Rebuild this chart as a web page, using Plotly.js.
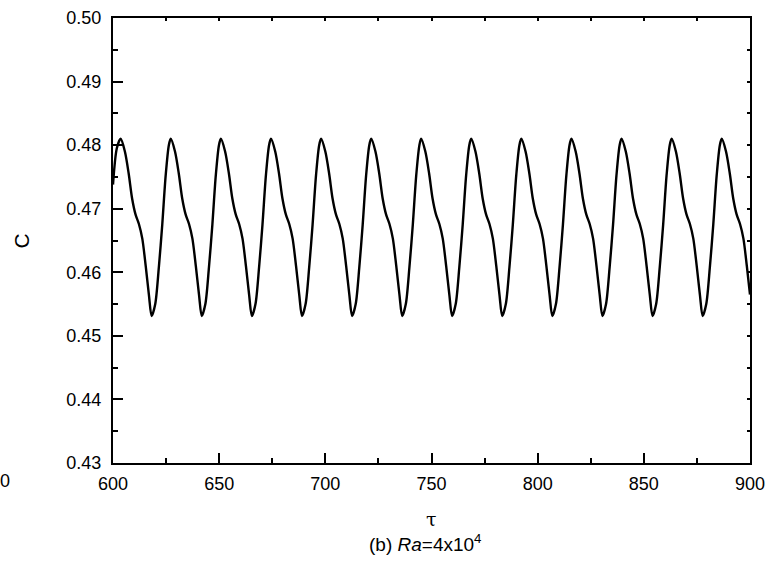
<!DOCTYPE html>
<html>
<head>
<meta charset="utf-8">
<script src="https://cdn.plot.ly/plotly-3.0.1.min.js"></script>
<style>html,body{margin:0;padding:0;background:#fff;}#chart{width:783px;height:568px;}</style>
</head>
<body>
<div id="chart"></div>
<script>
// time values (tau)
const tau = [
  600.0, 601.8,
  603.6, 605.6, 607.4, 609.0, 610.6, 612.2, 613.8, 615.4, 616.9, 618.2, 619.9, 621.6, 623.2, 624.8, 626.3,
  627.2, 629.2, 631.0, 632.6, 634.2, 635.8, 637.4, 639.0, 640.5, 641.8, 643.5, 645.2, 646.8, 648.4, 649.9,
  650.8, 652.8, 654.6, 656.2, 657.8, 659.4, 661.0, 662.6, 664.1, 665.4, 667.1, 668.8, 670.4, 672.0, 673.5,
  674.4, 676.4, 678.2, 679.8, 681.4, 683.0, 684.6, 686.2, 687.7, 689.0, 690.7, 692.4, 694.0, 695.6, 697.1,
  698.0, 700.0, 701.8, 703.4, 705.0, 706.6, 708.2, 709.8, 711.3, 712.6, 714.3, 716.0, 717.6, 719.2, 720.7,
  721.6, 723.6, 725.4, 727.0, 728.6, 730.2, 731.8, 733.4, 734.9, 736.2, 737.9, 739.6, 741.2, 742.8, 744.3,
  745.1, 747.1, 748.9, 750.5, 752.1, 753.7, 755.3, 756.9, 758.4, 759.7, 761.4, 763.1, 764.7, 766.3, 767.8,
  768.7, 770.7, 772.5, 774.1, 775.7, 777.3, 778.9, 780.5, 782.0, 783.3, 785.0, 786.7, 788.3, 789.9, 791.4,
  792.3, 794.3, 796.1, 797.7, 799.3, 800.9, 802.5, 804.1, 805.6, 806.9, 808.6, 810.3, 811.9, 813.5, 815.0,
  815.9, 817.9, 819.7, 821.3, 822.9, 824.5, 826.1, 827.7, 829.2, 830.5, 832.2, 833.9, 835.5, 837.1, 838.6,
  839.5, 841.5, 843.3, 844.9, 846.5, 848.1, 849.7, 851.3, 852.8, 854.1, 855.8, 857.5, 859.1, 860.7, 862.2,
  863.1, 865.1, 866.9, 868.5, 870.1, 871.7, 873.3, 874.9, 876.4, 877.7, 879.4, 881.1, 882.7, 884.3, 885.8,
  886.7, 888.7, 890.5, 892.1, 893.7, 895.3, 896.9, 898.5, 900.0
];
// concentration values C
const C = [
  0.4738, 0.4795,
  0.4810, 0.4790, 0.4755, 0.4716, 0.4691, 0.4676, 0.4653, 0.4610, 0.4565, 0.4531, 0.4550, 0.4608, 0.4675, 0.4752, 0.4800,
  0.4810, 0.4790, 0.4755, 0.4716, 0.4691, 0.4676, 0.4653, 0.4610, 0.4565, 0.4531, 0.4550, 0.4608, 0.4675, 0.4752, 0.4800,
  0.4810, 0.4790, 0.4755, 0.4716, 0.4691, 0.4676, 0.4653, 0.4610, 0.4565, 0.4531, 0.4550, 0.4608, 0.4675, 0.4752, 0.4800,
  0.4810, 0.4790, 0.4755, 0.4716, 0.4691, 0.4676, 0.4653, 0.4610, 0.4565, 0.4531, 0.4550, 0.4608, 0.4675, 0.4752, 0.4800,
  0.4810, 0.4790, 0.4755, 0.4716, 0.4691, 0.4676, 0.4653, 0.4610, 0.4565, 0.4531, 0.4550, 0.4608, 0.4675, 0.4752, 0.4800,
  0.4810, 0.4790, 0.4755, 0.4716, 0.4691, 0.4676, 0.4653, 0.4610, 0.4565, 0.4531, 0.4550, 0.4608, 0.4675, 0.4752, 0.4800,
  0.4810, 0.4790, 0.4755, 0.4716, 0.4691, 0.4676, 0.4653, 0.4610, 0.4565, 0.4531, 0.4550, 0.4608, 0.4675, 0.4752, 0.4800,
  0.4810, 0.4790, 0.4755, 0.4716, 0.4691, 0.4676, 0.4653, 0.4610, 0.4565, 0.4531, 0.4550, 0.4608, 0.4675, 0.4752, 0.4800,
  0.4810, 0.4790, 0.4755, 0.4716, 0.4691, 0.4676, 0.4653, 0.4610, 0.4565, 0.4531, 0.4550, 0.4608, 0.4675, 0.4752, 0.4800,
  0.4810, 0.4790, 0.4755, 0.4716, 0.4691, 0.4676, 0.4653, 0.4610, 0.4565, 0.4531, 0.4550, 0.4608, 0.4675, 0.4752, 0.4800,
  0.4810, 0.4790, 0.4755, 0.4716, 0.4691, 0.4676, 0.4653, 0.4610, 0.4565, 0.4531, 0.4550, 0.4608, 0.4675, 0.4752, 0.4800,
  0.4810, 0.4790, 0.4755, 0.4716, 0.4691, 0.4676, 0.4653, 0.4610, 0.4565, 0.4531, 0.4550, 0.4608, 0.4675, 0.4752, 0.4800,
  0.4810, 0.4790, 0.4755, 0.4716, 0.4691, 0.4676, 0.4653, 0.4610, 0.4565
];
const xTicks = [600, 650, 700, 750, 800, 850, 900];
const xTickLabels = ["600", "650", "700", "750", "800", "850", "900"];
const yTicks = [0.43, 0.44, 0.45, 0.46, 0.47, 0.48, 0.49, 0.50];
const yTickLabels = ["0.43", "0.44", "0.45", "0.46", "0.47", "0.48", "0.49", "0.50"];
const xTitle = "τ";
const yTitle = "C";
const caption = "(b) <i>Ra</i>=4x10<sup>4</sup>";
const strayLabel = "0";

const FONT = "Liberation Sans, Arial, sans-serif";

const traces = [
  {
    x: tau, y: C, type: "scatter", mode: "lines",
    line: {color: "#000", width: 2.4, shape: "spline", smoothing: 0.8},
    hoverinfo: "skip", showlegend: false
  },
  {
    x: [600, 900], y: [0.43, 0.50], xaxis: "x2", yaxis: "y2",
    type: "scatter", mode: "markers", marker: {opacity: 0}, hoverinfo: "skip", showlegend: false
  }
];

const layout = {
  width: 783, height: 568,
  margin: {l: 113, r: 33, t: 18, b: 105, pad: 0},
  paper_bgcolor: "#fff", plot_bgcolor: "#fff",
  font: {family: FONT, size: 18, color: "#000"},
  showlegend: false,
  xaxis: {
    range: [600, 900], tickmode: "array", tickvals: xTicks, ticktext: xTickLabels,
    ticks: "inside", ticklen: 10, tickwidth: 2, tickcolor: "#000",
    showline: true, linecolor: "#000", linewidth: 2, mirror: false,
    showgrid: false, zeroline: false,
    tickfont: {family: FONT, size: 18, color: "#000"},
    ticklabelstandoff: 3,
    minor: {dtick: 25, tick0: 600, ticks: "inside", ticklen: 5, tickwidth: 2, tickcolor: "#000", showgrid: false}
  },
  yaxis: {
    range: [0.43, 0.50], tickmode: "array", tickvals: yTicks, ticktext: yTickLabels,
    ticks: "inside", ticklen: 10, tickwidth: 2, tickcolor: "#000",
    showline: true, linecolor: "#000", linewidth: 2, mirror: false,
    showgrid: false, zeroline: false,
    tickfont: {family: FONT, size: 18, color: "#000"},
    ticklabelstandoff: 6,
    minor: {dtick: 0.005, tick0: 0.43, ticks: "inside", ticklen: 5, tickwidth: 2, tickcolor: "#000", showgrid: false}
  },
  xaxis2: {
    overlaying: "x", side: "top", range: [600, 900], dtick: 25, tick0: 600,
    ticks: "inside", ticklen: 3, tickwidth: 2, tickcolor: "#000",
    showline: true, linecolor: "#000", linewidth: 2,
    showticklabels: false, showgrid: false, zeroline: false
  },
  yaxis2: {
    overlaying: "y", side: "right", range: [0.43, 0.50], dtick: 0.005, tick0: 0.43,
    ticks: "inside", ticklen: 3, tickwidth: 2, tickcolor: "#000",
    showline: true, linecolor: "#000", linewidth: 2,
    showticklabels: false, showgrid: false, zeroline: false
  },
  annotations: [
    {text: yTitle, xref: "paper", yref: "paper", x: -0.143, y: 0.5, textangle: -90,
     showarrow: false, xanchor: "center", yanchor: "middle", font: {family: FONT, size: 21, color: "#000"}},
    {text: xTitle, xref: "paper", yref: "paper", x: 0.5, y: -0.125,
     showarrow: false, xanchor: "center", yanchor: "middle", font: {family: "DejaVu Serif, serif", size: 19, color: "#000"}},
    {text: caption, xref: "paper", yref: "paper", x: 0.49, y: -0.18,
     showarrow: false, xanchor: "center", yanchor: "middle", font: {family: FONT, size: 19, color: "#000"}},
    {text: strayLabel, xref: "paper", yref: "paper", x: (5 - 113) / 637, y: -0.04,
     showarrow: false, xanchor: "center", yanchor: "middle", font: {family: FONT, size: 18, color: "#000"}}
  ]
};

Plotly.newPlot("chart", traces, layout, {staticPlot: true, displayModeBar: false});
</script>
</body>
</html>
